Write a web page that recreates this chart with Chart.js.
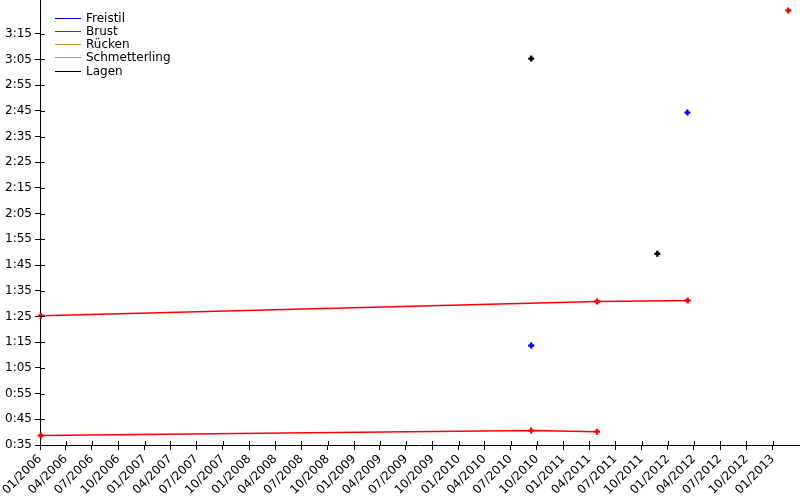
<!DOCTYPE html>
<html>
<head>
<meta charset="utf-8">
<script src="https://cdn.jsdelivr.net/npm/chart.js@4/dist/chart.umd.min.js"></script>
<style>
  html, body { margin: 0; padding: 0; background: #ffffff; }
  #wrap { width: 800px; height: 500px; position: relative; }
</style>
</head>
<body>
<div id="wrap"><canvas id="c" width="800" height="500"></canvas></div>
<script>
// ---- data (dates, times in seconds) ----
const legendLabels = ['Freistil', 'Brust', 'Rücken', 'Schmetterling', 'Lagen'];
const legendColors = ['#0000ff', '#ff0000', '#c4a035', '#00ff00', '#000000'];

const brust50Dates  = ['2006-01-04', '2010-09-11', '2011-04-29'];
const brust50Times  = [38.7, 40.6, 40.2];
const brust100Dates = ['2006-01-04', '2011-04-29', '2012-03-10'];
const brust100Times = [85.3, 90.8, 91.2];
const brust200Dates = ['2013-02-24'];
const brust200Times = [204.0];
const freistil100Dates = ['2010-09-11'];
const freistil100Times = [73.7];
const freistil200Dates = ['2012-03-09'];
const freistil200Times = [164.3];
const lagen100Dates = ['2011-11-25'];
const lagen100Times = [109.4];
const lagen200Dates = ['2010-09-11'];
const lagen200Times = [185.3];

const yTicks = [35, 45, 55, 65, 75, 85, 95, 105, 115, 125, 135, 145, 155, 165, 175, 185, 195];
const xTickLabels = [
  '01/2006','04/2006','07/2006','10/2006',
  '01/2007','04/2007','07/2007','10/2007',
  '01/2008','04/2008','07/2008','10/2008',
  '01/2009','04/2009','07/2009','10/2009',
  '01/2010','04/2010','07/2010','10/2010',
  '01/2011','04/2011','07/2011','10/2011',
  '01/2012','04/2012','07/2012','10/2012',
  '01/2013'
];

// ---- helpers ----
const EPOCH = Date.UTC(2006, 0, 1);
function dayOf(iso) {
  const p = iso.split('-').map(Number);
  return (Date.UTC(p[0], p[1] - 1, p[2]) - EPOCH) / 86400000;
}
function dayOfLabel(lbl) {
  const p = lbl.split('/').map(Number);
  return (Date.UTC(p[1], p[0] - 1, 1) - EPOCH) / 86400000;
}
function pts(dates, times) {
  return dates.map((d, i) => ({ x: dayOf(d), y: times[i] }));
}
function fmt(sec) {
  const m = Math.floor(sec / 60);
  const s = Math.round(sec - m * 60);
  return m + ':' + (s < 10 ? '0' : '') + s;
}
function ds(label, color, data) {
  return {
    label: label,
    data: data,
    borderColor: color,
    backgroundColor: color,
    borderWidth: 1.5,
    pointStyle: 'cross',
    pointRadius: 3,
    pointBorderWidth: 2.4,
    pointHoverRadius: 3,
    fill: false,
    tension: 0,
    clip: false
  };
}

const FONT = { family: 'DejaVu Sans', size: 12 };

const innerTicks = {
  id: 'innerTicks',
  afterDraw(chart) {
    const ctx = chart.ctx;
    const xs = chart.scales.x, ys = chart.scales.y;
    ctx.save();
    ctx.strokeStyle = '#000';
    ctx.lineWidth = 1;
    ctx.beginPath();
    xs.ticks.forEach(t => {
      const px = Math.round(xs.getPixelForValue(t.value)) + 0.5;
      ctx.moveTo(px, ys.bottom);
      ctx.lineTo(px, ys.bottom - 4);
    });
    ys.ticks.forEach(t => {
      const py = Math.round(ys.getPixelForValue(t.value)) + 0.5;
      ctx.moveTo(xs.left, py);
      ctx.lineTo(xs.left + 5, py);
    });
    ctx.stroke();
    ctx.restore();
  }
};

const customLegend = {
  id: 'customLegend',
  afterDraw(chart) {
    const ctx = chart.ctx;
    ctx.save();
    ctx.font = '12px "DejaVu Sans"';
    ctx.textBaseline = 'middle';
    ctx.textAlign = 'left';
    legendLabels.forEach((lbl, i) => {
      const y = 17.5 + i * 13.25;
      ctx.strokeStyle = legendColors[i];
      ctx.lineWidth = 1;
      ctx.beginPath();
      ctx.moveTo(55, Math.round(y) + 0.5);
      ctx.lineTo(81, Math.round(y) + 0.5);
      ctx.stroke();
      ctx.fillStyle = '#000';
      ctx.fillText(lbl, 86, y + 1);
    });
    ctx.restore();
  }
};

new Chart(document.getElementById('c'), {
  type: 'line',
  data: {
    datasets: [
      ds('Brust 50', legendColors[1], pts(brust50Dates, brust50Times)),
      ds('Brust 100', legendColors[1], pts(brust100Dates, brust100Times)),
      ds('Brust 200', legendColors[1], pts(brust200Dates, brust200Times)),
      ds('Freistil 100', legendColors[0], pts(freistil100Dates, freistil100Times)),
      ds('Freistil 200', legendColors[0], pts(freistil200Dates, freistil200Times)),
      ds('Lagen 100', legendColors[4], pts(lagen100Dates, lagen100Times)),
      ds('Lagen 200', legendColors[4], pts(lagen200Dates, lagen200Times))
    ]
  },
  options: {
    responsive: false,
    animation: false,
    events: [],
    layout: { padding: 0, autoPadding: false },
    plugins: { legend: { display: false }, tooltip: { enabled: false } },
    scales: {
      x: {
        type: 'linear',
        min: 0,
        max: 2652,
        border: { display: true, color: '#000', width: 1 },
        grid: { display: true, drawOnChartArea: false, drawTicks: true, tickLength: 5, color: '#000' },
        ticks: {
          autoSkip: false,
          maxRotation: 45,
          minRotation: 45,
          padding: 2,
          color: '#000',
          font: FONT,
          callback: (v, i) => xTickLabels[i]
        },
        afterBuildTicks: (scale) => {
          scale.ticks = xTickLabels.map(l => ({ value: dayOfLabel(l) }));
        },
        afterFit: (scale) => {
          scale.height = 55;
          scale.paddingLeft = 0;
          scale.paddingRight = 0;
        }
      },
      y: {
        type: 'linear',
        min: 35,
        max: 208.1,
        border: { display: true, color: '#000', width: 1 },
        grid: { display: true, drawOnChartArea: false, drawTicks: true, tickLength: 5, color: '#000' },
        ticks: {
          autoSkip: false,
          padding: 3,
          color: '#000',
          font: FONT,
          callback: (v) => fmt(v)
        },
        afterBuildTicks: (scale) => {
          scale.ticks = yTicks.map(v => ({ value: v }));
        },
        afterFit: (scale) => {
          scale.width = 40;
          scale.paddingTop = 0;
          scale.paddingBottom = 0;
        }
      }
    }
  },
  plugins: [innerTicks, customLegend]
});
</script>
</body>
</html>
